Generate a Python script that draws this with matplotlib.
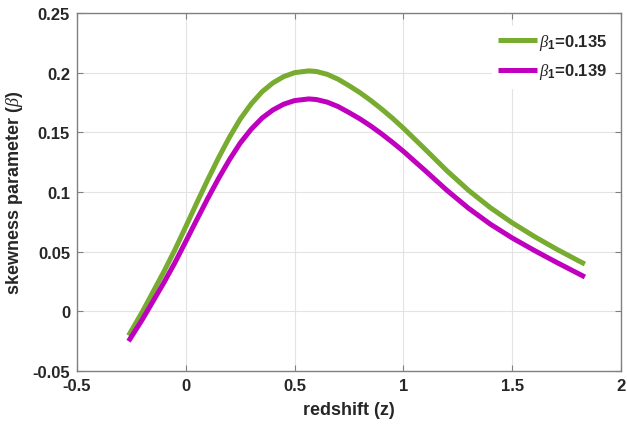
import matplotlib
matplotlib.use("Agg")
import matplotlib.pyplot as plt

# Skewness parameter versus redshift for two values of beta_1
z = [-0.263, -0.2, -0.1, -0.05, 0.0, 0.05, 0.1, 0.15, 0.2, 0.25,
     0.3, 0.35, 0.4, 0.45, 0.5, 0.565, 0.6, 0.65, 0.7, 0.75,
     0.8, 0.85, 0.9, 0.95, 1.0, 1.1, 1.2, 1.3, 1.4, 1.5,
     1.6, 1.7, 1.8, 1.834]

beta_135 = [-0.0203, -0.0005, 0.0335, 0.0516, 0.0710, 0.0907, 0.1100, 0.1285, 0.1457, 0.1611,
            0.1737, 0.1839, 0.1914, 0.1967, 0.2000, 0.2015, 0.2010, 0.1986, 0.1945, 0.1891,
            0.1833, 0.1767, 0.1695, 0.1618, 0.1535, 0.1358, 0.1178, 0.1013, 0.0868, 0.0742,
            0.0629, 0.0525, 0.0428, 0.0396]

beta_139 = [-0.0250, -0.0069, 0.0243, 0.0408, 0.0586, 0.0766, 0.0943, 0.1112, 0.1269, 0.1410,
            0.1525, 0.1619, 0.1687, 0.1736, 0.1766, 0.1780, 0.1775, 0.1753, 0.1716, 0.1666,
            0.1613, 0.1553, 0.1487, 0.1416, 0.1341, 0.1179, 0.1014, 0.0863, 0.0730, 0.0615,
            0.0512, 0.0414, 0.0320, 0.0288]

labels = [r"$\beta_{\mathbf{1}}$=0.135", r"$\beta_{\mathbf{1}}$=0.139"]
colors = ["#77AC30", "#BF00BF"]

xticks = [-0.5, 0, 0.5, 1, 1.5, 2]
xtick_labels = ["-0.5", "0", "0.5", "1", "1.5", "2"]
yticks = [-0.05, 0, 0.05, 0.1, 0.15, 0.2, 0.25]
ytick_labels = ["-0.05", "0", "0.05", "0.1", "0.15", "0.2", "0.25"]

plt.rcParams["font.family"] = ["Liberation Sans", "DejaVu Sans"]
plt.rcParams["mathtext.fontset"] = "custom"
plt.rcParams["mathtext.it"] = "Liberation Serif:italic"
plt.rcParams["mathtext.rm"] = "Liberation Sans"
plt.rcParams["mathtext.bf"] = "Liberation Sans:bold"

fig = plt.figure(figsize=(6.27, 4.27), dpi=100)
ax = fig.add_axes([77 / 627, 1 - 372 / 427, (621 - 77) / 627, (372 - 14) / 427])

ax.plot(z, beta_135, color=colors[0], lw=3.6, label=labels[0],
        solid_capstyle="butt", solid_joinstyle="round")
ax.plot(z, beta_139, color=colors[1], lw=3.6, label=labels[1],
        solid_capstyle="butt", solid_joinstyle="round")

ax.set_xlim(-0.5, 2)
ax.set_ylim(-0.05, 0.25)
ax.set_xticks(xticks)
ax.set_xticklabels(xtick_labels)
ax.set_yticks(yticks)
ax.set_yticklabels(ytick_labels)

ax.grid(True, color="#e3e3e3", lw=0.8)
ax.set_axisbelow(True)
for s in ax.spines.values():
    s.set_color("#808080")
    s.set_linewidth(1.0)
ax.tick_params(direction="in", length=4, width=0.8, color="#808080",
               top=True, right=True, labelsize=12, pad=5)
for lab in ax.get_xticklabels() + ax.get_yticklabels():
    lab.set_fontweight("bold")
    lab.set_color("#262626")

ax.set_xlabel("redshift (z)", fontsize=13, fontweight="bold", color="#262626", labelpad=6)
ax.set_ylabel(r"skewness parameter ($\beta$)", fontsize=13, fontweight="bold",
              color="#262626", labelpad=5)

leg = ax.legend(loc="upper right", bbox_to_anchor=(0.987, 0.965), borderaxespad=0,
                frameon=True, fancybox=False, framealpha=1, edgecolor="white",
                handlelength=2.35, handletextpad=0.1, borderpad=0.4, labelspacing=0.55,
                prop={"weight": "bold", "size": 12})
for t in leg.get_texts():
    t.set_color("#262626")

fig.savefig("out.png", dpi=100)
